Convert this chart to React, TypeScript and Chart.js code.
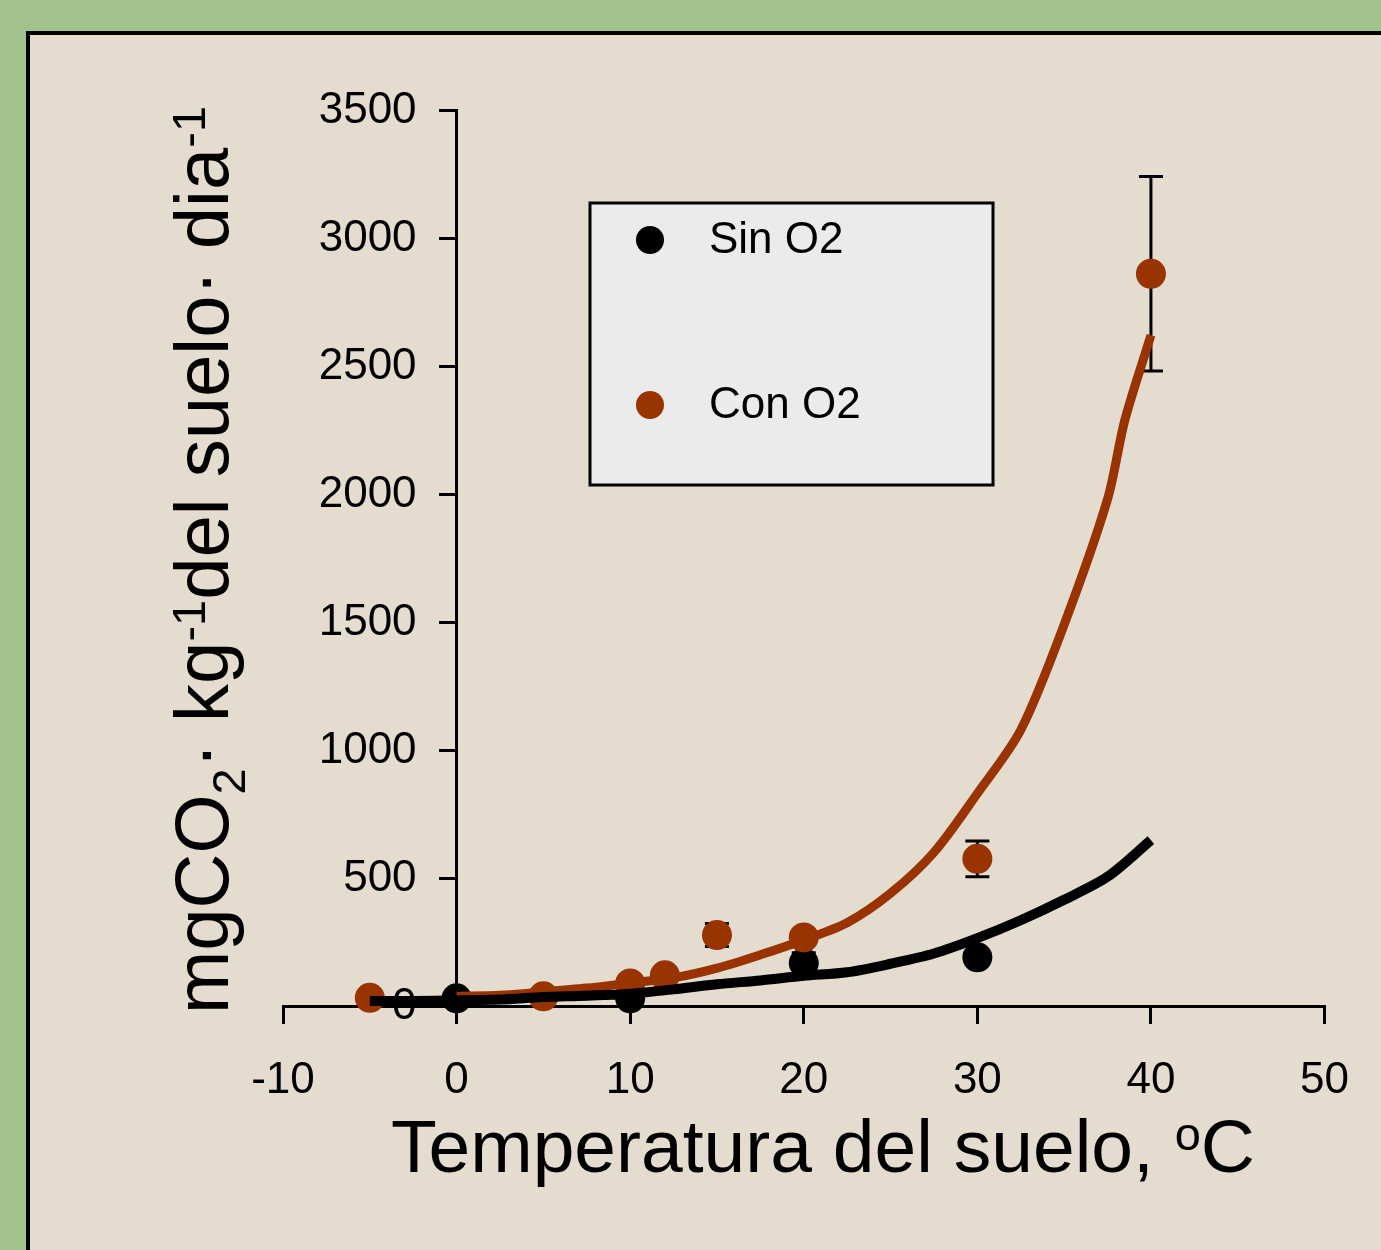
import React, { useEffect, useRef } from 'react';
import { Chart, registerables } from 'chart.js';

Chart.register(...registerables);

// ---- data ----
const xMin = -10;
const xMax = 50;
const xStep = 10;
const yMin = 0;
const yMax = 3500;
const yStep = 500;

const sinLabel = 'Sin O2';
const conLabel = 'Con O2';

const sinTemp = [0, 10, 20, 30];
const sinResp = [30, 30, 168, 190];
const sinErr = [8, 8, 40, 25];

const conTemp = [-5, 5, 10, 12, 15, 20, 30, 40];
const conResp = [32, 38, 88, 120, 277, 268, 575, 2860];
const conErr = [5, 10, 15, 20, 45, 20, 70, 380];

const sinFitTemp = [-5, -2.5, 0, 2.5, 5, 7.5, 10, 12.5, 15, 17.5, 20, 22.5, 25, 27.5, 30, 32.5, 35, 37.5, 40];
const sinFitResp = [20, 20, 22, 25, 35, 40, 48, 65, 85, 100, 118, 132, 165, 205, 265, 335, 415, 505, 648];

const conFitTemp = [0, 2.5, 5, 7.5, 10, 12.5, 15, 17.5, 20, 22.5, 25, 27.5, 30, 32.5, 35, 37.5, 38.5, 40];
const conFitResp = [38, 42, 55, 70, 90, 110, 148, 200, 258, 325, 440, 600, 830, 1078, 1490, 1980, 2290, 2620];

const xTitle = [
  { t: 'Temperatura del suelo, ' },
  { t: 'o', sup: true },
  { t: 'C' },
];
const yTitle = [
  { t: 'mgCO' },
  { t: '2', sub: true },
  { t: '· kg' },
  { t: '-1', sup: true },
  { t: 'del suelo· dia' },
  { t: '-1', sup: true },
];

const FONT = '"Liberation Sans", Arial, Helvetica, sans-serif';
const BLACK = '#000000';
const ORANGE = '#993300';

const pts = (xs: number[], ys: number[]) => xs.map((x, i) => ({ x, y: ys[i] }));

type Seg = { t: string; sup?: boolean; sub?: boolean };

function drawRich(ctx: CanvasRenderingContext2D, segs: Seg[], size: number) {
  const small = Math.round(size * 0.62);
  const widths = segs.map((s) => {
    ctx.font = `${s.sup || s.sub ? small : size}px ${FONT}`;
    return ctx.measureText(s.t).width;
  });
  const total = widths.reduce((a, b) => a + b, 0);
  let x = -total / 2;
  segs.forEach((s, i) => {
    ctx.font = `${s.sup || s.sub ? small : size}px ${FONT}`;
    const dy = s.sup ? -size * 0.3 : s.sub ? size * 0.22 : 0;
    ctx.fillText(s.t, x, dy);
    x += widths[i];
  });
}

const errorBars = {
  id: 'errorBars',
  beforeDatasetsDraw(chart: any) {
    const { ctx, scales } = chart;
    const xs = scales.x;
    const ys = scales.y;
    ctx.save();
    ctx.strokeStyle = BLACK;
    ctx.lineWidth = 3;
    const draw = (tx: number[], ry: number[], er: number[]) => {
      tx.forEach((t, i) => {
        const px = xs.getPixelForValue(t);
        const top = ys.getPixelForValue(ry[i] + er[i]);
        const bot = ys.getPixelForValue(ry[i] - er[i]);
        ctx.beginPath();
        ctx.moveTo(px, top);
        ctx.lineTo(px, bot);
        ctx.moveTo(px - 12, top);
        ctx.lineTo(px + 12, top);
        ctx.moveTo(px - 12, bot);
        ctx.lineTo(px + 12, bot);
        ctx.stroke();
      });
    };
    draw(sinTemp, sinResp, sinErr);
    draw(conTemp, conResp, conErr);
    ctx.restore();
  },
};

const titlesAndLegend = {
  id: 'titlesAndLegend',
  afterDraw(chart: any) {
    const { ctx } = chart;
    ctx.save();
    ctx.fillStyle = BLACK;

    // y tick labels (left of the axis placed at x = 0)
    const ys = chart.scales.y;
    const axisX = chart.scales.x.getPixelForValue(0);
    ctx.font = `44px ${FONT}`;
    ctx.textAlign = 'right';
    ctx.textBaseline = 'middle';
    ys.ticks.forEach((tk: any) => {
      ctx.fillText(String(tk.value), axisX - 40, ys.getPixelForValue(tk.value) + 1);
    });

    ctx.textBaseline = 'alphabetic';
    ctx.textAlign = 'left';
    // x title
    ctx.save();
    ctx.translate(823, 1172);
    drawRich(ctx, xTitle, 75);
    ctx.restore();
    // y title
    ctx.save();
    ctx.translate(228, 560);
    ctx.rotate(-Math.PI / 2);
    drawRich(ctx, yTitle, 76);
    ctx.restore();

    // legend box
    const lx = 590, ly = 203, lw = 403, lh = 282;
    ctx.fillStyle = '#ebebeb';
    ctx.fillRect(lx, ly, lw, lh);
    ctx.strokeStyle = BLACK;
    ctx.lineWidth = 3;
    ctx.strokeRect(lx, ly, lw, lh);
    const ds = chart.data.datasets;
    const items = [ds[3], ds[1]];
    const rows = [240, 405];
    items.forEach((d: any, i: number) => {
      const cy = rows[i];
      ctx.beginPath();
      ctx.fillStyle = d.backgroundColor;
      ctx.arc(650, cy, 14, 0, Math.PI * 2);
      ctx.fill();
      ctx.fillStyle = BLACK;
      ctx.font = `44px ${FONT}`;
      ctx.textBaseline = 'middle';
      ctx.textAlign = 'left';
      ctx.fillText(d.label, 709, cy + 1);
    });
    ctx.restore();
  },
};

export default function App() {
  const ref = useRef<HTMLCanvasElement | null>(null);

  useEffect(() => {
    document.body.style.margin = '0';
    const canvas = ref.current;
    if (!canvas) return;
    const chart = new Chart(canvas, {
      type: 'scatter',
      data: {
        datasets: [
          {
            label: sinLabel + ' ajuste',
            data: pts(sinFitTemp, sinFitResp),
            showLine: true,
            borderColor: BLACK,
            backgroundColor: BLACK,
            borderWidth: 10,
            pointRadius: 0,
            tension: 0.3,
            order: 0,
          },
          {
            label: conLabel,
            data: pts(conTemp, conResp),
            showLine: false,
            backgroundColor: ORANGE,
            borderColor: ORANGE,
            borderWidth: 0,
            pointRadius: 15,
            order: 1,
          },
          {
            label: conLabel + ' ajuste',
            data: pts(conFitTemp, conFitResp),
            showLine: true,
            borderColor: ORANGE,
            backgroundColor: ORANGE,
            borderWidth: 9,
            pointRadius: 0,
            tension: 0.3,
            order: 2,
          },
          {
            label: sinLabel,
            data: pts(sinTemp, sinResp),
            showLine: false,
            backgroundColor: BLACK,
            borderColor: BLACK,
            borderWidth: 0,
            pointRadius: 15,
            order: 3,
          },
        ] as any,
      },
      options: {
        animation: false,
        responsive: false,
        devicePixelRatio: 1,
        clip: false as any,
        layout: { padding: { left: 283, right: 48, top: 110, bottom: 244 } },
        plugins: { legend: { display: false }, tooltip: { enabled: false } },
        scales: {
          x: {
            type: 'linear',
            min: xMin,
            max: xMax,
            position: { y: 0 } as any,
            ticks: { stepSize: xStep, color: BLACK, font: { family: FONT, size: 44 }, padding: 32 },
            grid: { drawOnChartArea: false, drawTicks: true, tickLength: 16, color: BLACK, lineWidth: 3 },
            border: { display: true, color: BLACK, width: 3 },
            title: { display: false },
          },
          y: {
            type: 'linear',
            min: yMin,
            max: yMax,
            position: { x: 0 } as any,
            ticks: { stepSize: yStep, display: false },
            grid: { drawOnChartArea: false, drawTicks: true, tickLength: 16, color: BLACK, lineWidth: 3 },
            border: { display: true, color: BLACK, width: 3 },
            title: { display: false },
          },
        },
      },
      plugins: [errorBars, titlesAndLegend],
    });
    return () => chart.destroy();
  }, []);

  return (
    <div style={{ position: 'relative', width: 1381, height: 1250, background: '#a1c18d', overflow: 'hidden' }}>
      <div
        style={{
          position: 'absolute',
          left: 26,
          top: 31,
          width: 1400,
          height: 1300,
          background: '#e3dccf',
          border: '4px solid #000',
        }}
      />
      <canvas
        ref={ref}
        width={1381}
        height={1250}
        style={{ position: 'absolute', left: 0, top: 0, width: 1381, height: 1250 }}
      />
    </div>
  );
}
